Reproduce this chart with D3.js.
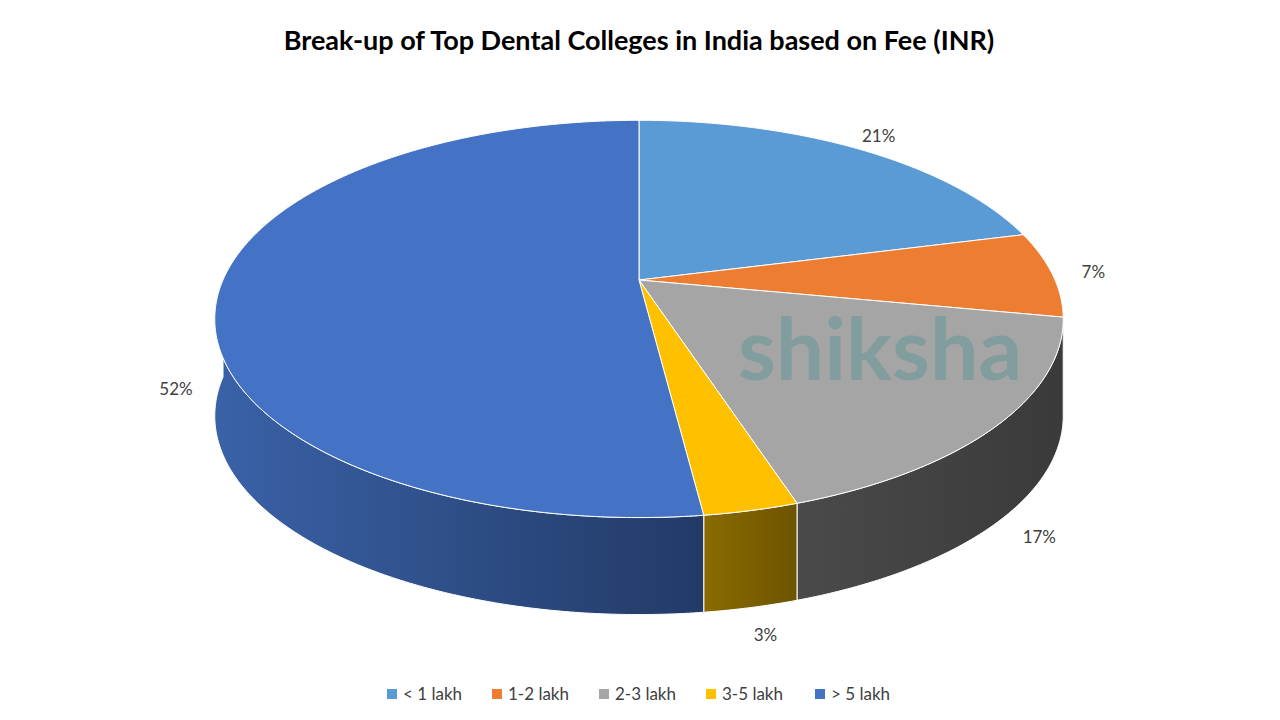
<!DOCTYPE html>
<html>
<head>
<meta charset="utf-8">
<script src="https://cdn.jsdelivr.net/npm/d3@7"></script>
<style>body{margin:0;background:#fff;}</style>
</head>
<body>
<div id="chart"></div>
<script>
const categories = ["< 1 lakh", "1-2 lakh", "2-3 lakh", "3-5 lakh", "> 5 lakh"];
const values = [21, 7, 17, 3, 52];
const labels = ["21%", "7%", "17%", "3%", "52%"];
const topColors = ["#5b9bd5", "#ed7d31", "#a5a5a5", "#ffc000", "#4472c4"];
const sideColors = [["#3f6f9c", "#2e5478"], ["#a9561f", "#7d3f16"], ["#4a4a4a", "#3a3a3a"], ["#8a6a00", "#6e5400"], ["#3a62a8", "#223a66"]];

const width = 1280, height = 720;
const cx = 639, cy = 280, rx = 416, ry = 191, p = 0.196, depth = 97;

const svg = d3.select("#chart").append("svg")
  .attr("width", width).attr("height", height)
  .style("font-family", "Lato, 'Open Sans', sans-serif");

const defs = svg.append("defs");
sideColors.forEach((c, i) => {
  const g = defs.append("linearGradient").attr("id", "side" + i)
    .attr("x1", "0%").attr("x2", "100%").attr("y1", "0%").attr("y2", "0%");
  g.append("stop").attr("offset", "0%").attr("stop-color", c[0]);
  g.append("stop").attr("offset", "100%").attr("stop-color", c[1]);
});

// projection of a point on the disc (angle a clockwise from top, radius r)
function proj(a, r = 1) {
  const X = Math.sin(a) * r, Z = -Math.cos(a) * r;
  const s = 1 / (1 - p * Z);
  return [cx + rx * X * s, cy + ry * Z * s];
}

const arcs = d3.pie().sort(null).value(d => d)(values);

function arcPts(a0, a1) {
  const n = Math.max(2, Math.ceil((a1 - a0) / 0.01));
  return d3.range(n + 1).map(i => proj(a0 + (a1 - a0) * i / n));
}

// side walls (front half only: a in [PI/2, 3PI/2])
const sides = svg.append("g");
arcs.forEach((d, i) => {
  const a0 = Math.max(d.startAngle, Math.PI / 2), a1 = Math.min(d.endAngle, 3 * Math.PI / 2);
  if (a1 <= a0) return;
  const pts = arcPts(a0, a1);
  const bottom = pts.map(([x, y]) => [x, y + depth]).reverse();
  sides.append("path")
    .attr("d", d3.line()(pts.concat(bottom)) + "Z")
    .attr("fill", `url(#side${i})`)
    .attr("stroke", "#fff").attr("stroke-width", 1);
});

// top faces
const tops = svg.append("g");
arcs.forEach((d, i) => {
  const pts = [[cx, cy]].concat(arcPts(d.startAngle, d.endAngle));
  tops.append("path")
    .attr("d", d3.line()(pts) + "Z")
    .attr("fill", topColors[i])
    .attr("stroke", "#fff").attr("stroke-width", 1);
});

// watermark
svg.append("text").attr("x", 880).attr("y", 380).attr("text-anchor", "middle")
  .attr("fill", "#3f8f8f").attr("opacity", 0.35)
  .style("font-size", "86px").style("font-weight", "bold").text("shiksha");

// data labels
arcs.forEach((d, i) => {
  const m = (d.startAngle + d.endAngle) / 2;
  const [x, y] = proj(m, 1.1);
  const front = -Math.cos(m) > 0.02;
  svg.append("text").attr("x", x).attr("y", y + (front ? depth : 0))
    .attr("text-anchor", "middle").attr("dominant-baseline", "middle")
    .attr("fill", "#404040").style("font-size", "17px").text(labels[i]);
});

// title
svg.append("text").attr("x", 639).attr("y", 50).attr("text-anchor", "middle")
  .style("font-size", "27px").style("font-weight", "bold").attr("fill", "#000")
  .text("Break-up of Top Dental Colleges in India based on Fee (INR)");

// legend
const legendX = d3.scalePoint().domain(categories).range([392, 820]);
const lg = svg.append("g").selectAll("g").data(categories).enter().append("g")
  .attr("transform", (d, i) => `translate(${[392, 497, 604, 711, 820][i]},694)`);
lg.append("rect").attr("x", -5).attr("y", -5).attr("width", 10).attr("height", 10)
  .attr("fill", (d, i) => topColors[i]);
lg.append("text").attr("x", 11).attr("dy", "0.35em").attr("fill", "#404040")
  .style("font-size", "17px").text(d => d);
</script>
</body>
</html>
